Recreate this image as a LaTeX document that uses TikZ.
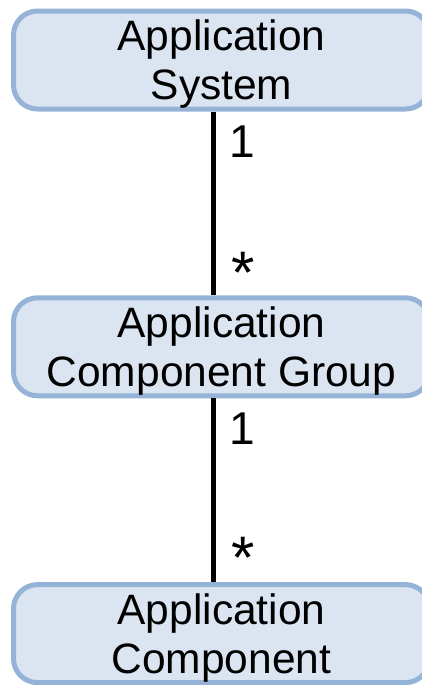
\documentclass[tikz,border=0pt]{standalone}
\usepackage{fontspec}
\setmainfont{Liberation Sans}

\definecolor{boxfill}{HTML}{DBE5F1}
\definecolor{boxline}{HTML}{95B3D7}

\begin{document}
\begin{tikzpicture}

\def\vsep{143.4pt}
\def\lshift{-4.25pt}

\tikzstyle{cbox} = [rounded corners=12pt,minimum width=208pt,minimum height=49pt,inner sep=0pt,text depth=0pt,draw=boxline,line width=2.5pt,fill=boxfill,align=center,font=\fontsize{21.25pt}{24.5pt}\selectfont];
\tikzstyle{mult} = [anchor=base,inner sep=0pt,font=\fontsize{23pt}{27pt}\selectfont];
\tikzstyle{star} = [mult,font=\fontsize{30pt}{34pt}\selectfont];
\tikzstyle{link} = [line width=2.5pt];

\useasboundingbox (0,0) rectangle (211pt,-342.5pt);
\clip (0,0) rectangle (211pt,-342.5pt);

% the three boxes, one under the other
\node [cbox] (sys) at (110.75pt,-30pt) {Application\\System};
\node [cbox] (grp) at ([yshift=-\vsep]sys.center) {Application\\Component Group};
\node [cbox] (comp) at ([yshift=-\vsep]grp.center) {Application\\Component};

% links between them
\draw [link] ([xshift=\lshift]sys.south) -- ([xshift=\lshift]grp.north);
\draw [link] ([xshift=\lshift]grp.south) -- ([xshift=\lshift]comp.north);

% multiplicities
\node [mult] (m1) at ([xshift=10.25pt,yshift=-23pt]sys.south) {1};
\node [star] (m2) at ([xshift=10.75pt,yshift=0.75pt]grp.north) {*};
\node [mult] (m3) at ([xshift=10.25pt,yshift=-23pt]grp.south) {1};
\node [star] (m4) at ([xshift=10.75pt,yshift=1.75pt]comp.north) {*};

\end{tikzpicture}
\end{document}
